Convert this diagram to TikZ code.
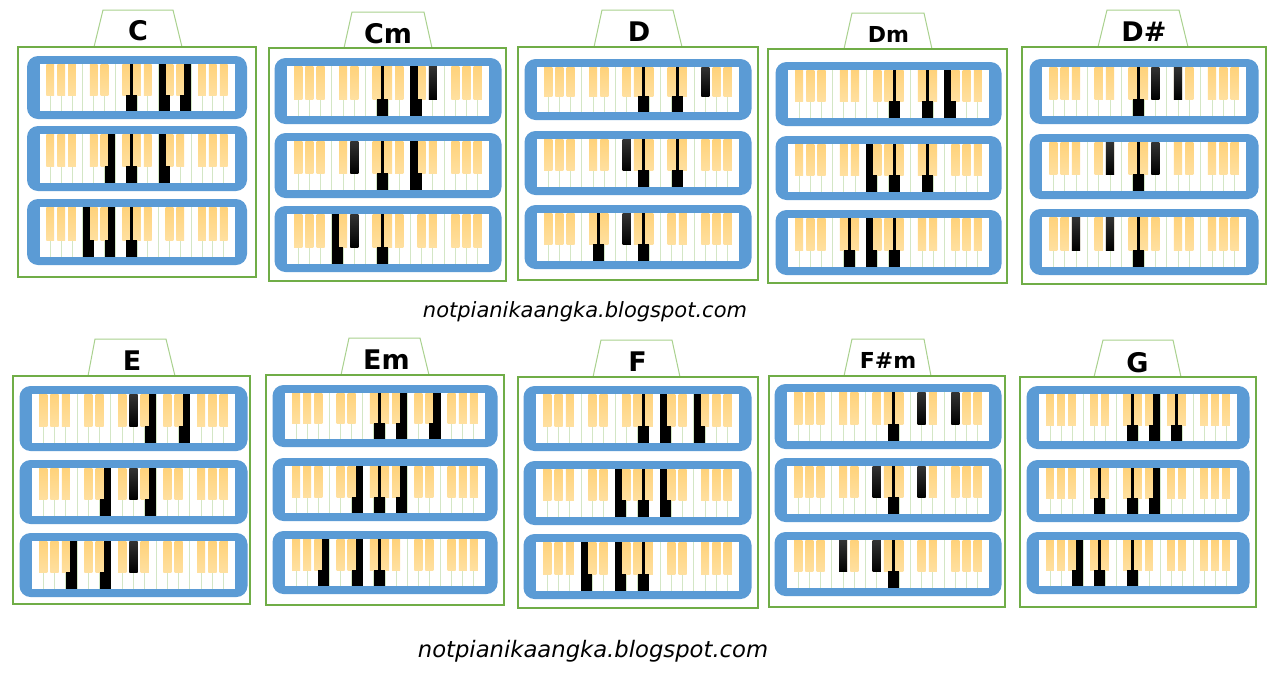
\documentclass[tikz,border=0pt]{standalone}
\usepackage{fontspec}
\setmainfont{DejaVu Sans}
\definecolor{kbblue}{HTML}{5B9BD5}
\definecolor{boxgreen}{HTML}{70AD47}
\definecolor{tabgreen}{HTML}{A9D18E}
\definecolor{sepgreen}{HTML}{D3E6C5}
\definecolor{keyorangeT}{HTML}{FFD27A}
\definecolor{keyorangeB}{HTML}{FFE0A0}
\tikzset{
  sepline/.style={sepgreen,line width=0.9pt},
  boxline/.style={boxgreen,line width=1.6pt},
  tabline/.style={tabgreen,line width=1pt},
  titlebig/.style={font=\bfseries\fontsize{27}{31}\selectfont,inner sep=0pt},
  titlesmall/.style={font=\bfseries\fontsize{22}{26}\selectfont,inner sep=0pt},
  urltext/.style={font=\itshape\fontsize{#1}{#1}\selectfont,inner sep=0pt,anchor=base}
}
% keyboard: x0, x1, y0, y1, pressed white keys, pressed black keys
\newcommand\kbd[6]{%
  \pgfmathsetmacro\kbw{(#2-#1)/18}%
  \pgfmathsetmacro\kbh{#3+0.66*(#4-#3)}%
  \fill[kbblue,rounded corners=11pt] ({#1-12.5},{#3-8}) rectangle ({#2+12.5},{#4+8});
  \fill[white] (#1,#3) rectangle (#2,#4);
  \foreach \i in {1,...,17}{\draw[sepline] ({#1+\i*\kbw},#3) -- ({#1+\i*\kbw},#4);}
  \foreach \b in {1,2,3,5,6,8,9,10,12,13,15,16,17}{%
    \shade[top color=keyorangeT,bottom color=keyorangeB] ({#1+(\b-0.36)*\kbw},#3) rectangle ({#1+(\b+0.36)*\kbw},\kbh);}
  \foreach \w in {#5}{%
    \pgfmathsetmacro\kbl{mod(\w,7)}%
    \pgfmathsetmacro\kbr{mod(\w+1,7)}%
    \pgfmathsetmacro\kbxl{#1+\kbw*ifthenelse(or(equal(\kbl,0),equal(\kbl,4)),\w,\w+0.36)}%
    \pgfmathsetmacro\kbxr{#1+\kbw*ifthenelse(or(equal(\kbr,0),equal(\kbr,4)),\w+1,\w+0.64)}%
    \fill[black] (\kbxl,#3) rectangle (\kbxr,\kbh);
    \fill[black] ({#1+\w*\kbw},{\kbh-0.5}) rectangle ({#1+(\w+1)*\kbw},#4);
  }
  \ifx\relax#6\relax\else
  \foreach \b in {#6}{%
    \shade[top color=black!80,bottom color=black] ({#1+(\b-0.36)*\kbw},#3) rectangle ({#1+(\b+0.36)*\kbw},\kbh);}
  \fi
}
% chord box: L, T, R, B, tab top, tab bottom-left, tab top-left, tab top-right, tab bottom-right
\newcommand\cbox[9]{%
  \draw[tabline] (#6,#2) -- (#7,#5) -- (#8,#5) -- (#9,#2);
  \draw[boxline] (#1,#2) rectangle (#3,#4);
}
\begin{document}
\begin{tikzpicture}[x=1pt,y=-1pt]
\useasboundingbox[fill=white] (0,0) rectangle (1283,673);

% ---------- top row ----------
% C
\cbox{18}{47}{256}{277}{10}{94}{103}{173}{182}
\node[titlebig] (tC) at (138,31) {C};
\kbd{39.5}{234.5}{64}{111}{8,11,13}{}
\kbd{39.5}{234.5}{134}{183}{6,8,11}{}
\kbd{39.5}{234.5}{207}{257}{4,6,8}{}
% Cm
\cbox{269}{48}{506}{281}{12}{344}{352}{424}{432}
\node[titlebig] (tCm) at (388,34) {Cm};
\kbd{287}{489}{66}{116}{8,11}{13}
\kbd{287}{489}{141}{190}{8,11}{6}
\kbd{287}{489}{214}{264}{4,8}{6}
% D
\cbox{518}{47}{758}{280}{10}{594}{602}{673}{682}
\node[titlebig] (tD) at (639,32) {D};
\kbd{537}{739}{67}{112}{9,12}{15}
\kbd{537}{739}{139}{187}{9,12}{8}
\kbd{537}{739}{213}{261}{5,9}{8}
% Dm
\cbox{768}{49}{1007}{283}{13}{844}{852}{924}{932}
\node[titlesmall] (tDm) at (888.5,34.2) {Dm};
\kbd{788}{989}{70}{118}{9,12,14}{}
\kbd{788}{989}{144}{192}{7,9,12}{}
\kbd{788}{989}{218}{267}{5,7,9}{}
% D#
\cbox{1022}{47}{1266}{284}{10}{1098}{1107}{1179}{1188}
\node[titlebig] (tDs) at (1144,31.7) {D\#};
\kbd{1042}{1246}{67}{116}{8}{10,12}
\kbd{1042}{1246}{142}{191}{8}{6,10}
\kbd{1042}{1246}{217}{267}{8}{3,6}

\node[urltext=21] (url1) at (585,317.3) {notpianikaangka.blogspot.com};

% ---------- bottom row ----------
% E
\cbox{13}{376}{250}{604}{339}{88}{95}{166}{175}
\node[titlebig] (tE) at (132,360.5) {E};
\kbd{32}{235}{394}{443}{10,13}{9}
\kbd{32}{235}{468}{516}{6,10}{9}
\kbd{32}{235}{541}{589}{3,6}{9}
% Em
\cbox{266}{375}{504}{605}{338}{341}{349}{420}{429}
\node[titlebig] (tEm) at (386.5,359.5) {Em};
\kbd{285}{485}{393}{439}{8,10,13}{}
\kbd{285}{485}{466}{513}{6,8,10}{}
\kbd{285}{485}{539}{586}{3,6,8}{}
% F
\cbox{518}{377}{758}{608}{340}{593}{601}{672}{680}
\node[titlebig] (tF) at (637.5,361.3) {F};
\kbd{536}{739}{394}{443}{9,11,14}{}
\kbd{536}{739}{469}{517}{7,9,11}{}
\kbd{536}{739}{542}{591}{4,7,9}{}
% F#m
\cbox{769}{376}{1005}{607}{339}{844}{852}{924}{931}
\node[titlesmall] (tFsm) at (888,360) {F\#m};
\kbd{787}{989}{392}{441}{9}{12,15}
\kbd{787}{989}{466}{514}{9}{8,12}
\kbd{787}{989}{540}{588}{9}{5,8}
% G
\cbox{1020}{377}{1256}{607}{340}{1094}{1103}{1173}{1181}
\node[titlebig] (tG) at (1137.5,362.3) {G};
\kbd{1039}{1237}{394}{441}{8,10,12}{}
\kbd{1039}{1237}{468}{514}{5,8,10}{}
\kbd{1039}{1237}{540}{586}{3,5,8}{}

\node[urltext=22.7] (url2) at (593,657) {notpianikaangka.blogspot.com};
\end{tikzpicture}
\end{document}
